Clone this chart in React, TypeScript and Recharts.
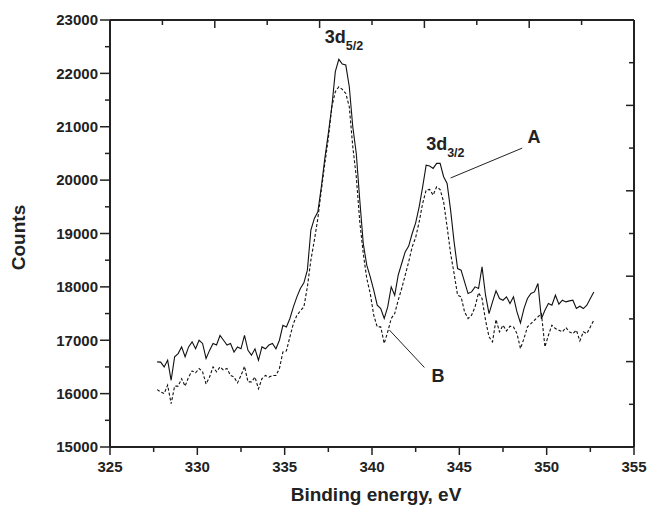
import { LineChart, Line, XAxis, YAxis, ReferenceLine, ReferenceDot } from 'recharts';

// binding energy, eV
const energy = [
  327.7, 327.9, 328.1, 328.3, 328.5, 328.7, 328.9, 329.1, 329.3, 329.5,
  329.7, 329.9, 330.1, 330.3, 330.5, 330.7, 330.9, 331.1, 331.3, 331.5,
  331.7, 331.9, 332.1, 332.3, 332.5, 332.7, 332.9, 333.1, 333.3, 333.5,
  333.7, 333.9, 334.1, 334.3, 334.5, 334.7, 334.9, 335.1, 335.3, 335.5,
  335.7, 335.9, 336.1, 336.3, 336.5, 336.7, 336.9, 337.1, 337.3, 337.5,
  337.7, 337.9, 338.1, 338.3, 338.5, 338.7, 338.9, 339.1, 339.3, 339.5,
  339.7, 339.9, 340.1, 340.3, 340.5, 340.7, 340.9, 341.1, 341.3, 341.5,
  341.7, 341.9, 342.1, 342.3, 342.5, 342.7, 342.9, 343.1, 343.3, 343.5,
  343.7, 343.9, 344.1, 344.3, 344.5, 344.7, 344.9, 345.1, 345.3, 345.5,
  345.7, 345.9, 346.1, 346.3, 346.5, 346.7, 346.9, 347.1, 347.3, 347.5,
  347.7, 347.9, 348.1, 348.3, 348.5, 348.7, 348.9, 349.1, 349.3, 349.5,
  349.7, 349.9, 350.1, 350.3, 350.5, 350.7, 350.9, 351.1, 351.3, 351.5,
  351.7, 351.9, 352.1, 352.3, 352.5, 352.7,
];

// curve A (solid)
const countsA = [
  16594, 16590, 16500, 16625, 16250, 16690, 16750, 16875, 16690, 16875,
  16970, 16840, 17000, 16940, 16660, 16810, 16940, 16910, 17090, 17000,
  16910, 16940, 16780, 16875, 16840, 17090, 16810, 16720, 16840, 16625,
  16875, 16840, 16910, 16940, 16840, 17000, 17280, 17250, 17407, 17625,
  17813, 17969, 18075, 18313, 19063, 19282, 19406, 19875, 20407, 20875,
  21375, 22031, 22263, 22175, 22156, 21750, 21000, 20500, 19625, 18813,
  18406, 18188, 17938, 17656, 17594, 17407, 17625, 18000, 17844, 18219,
  18438, 18656, 18763, 19000, 19200, 19500, 19875, 20281, 20263, 20219,
  20313, 20313, 20063, 19938, 19438, 18844, 18344, 18313, 18094, 17875,
  17906, 18000, 17969, 18375, 17844, 17500, 17719, 17925, 17782, 17750,
  17813, 17688, 17813, 17531, 17325, 17594, 17782, 17875, 17906, 18063,
  17400, 17563, 17688, 17657, 17844, 17675, 17750, 17719, 17738, 17750,
  17594, 17638, 17594, 17657, 17782, 17906,
];

// curve B (dashed)
const countsB = [
  16075, 16030, 16000, 16160, 15810, 16140, 16140, 16280, 16140, 16310,
  16425, 16390, 16470, 16410, 16180, 16310, 16500, 16410, 16500, 16440,
  16470, 16340, 16310, 16200, 16340, 16510, 16220, 16220, 16310, 16090,
  16280, 16340, 16310, 16340, 16340, 16470, 16780, 16800, 17063, 17313,
  17469, 17550, 17625, 18000, 18500, 18875, 19282, 19813, 20313, 20782,
  21375, 21657, 21750, 21700, 21625, 21375, 20625, 20063, 19219, 18625,
  18157, 17875, 17469, 17250, 17250, 16940, 17157, 17407, 17500, 17750,
  17969, 18219, 18469, 18750, 18925, 19219, 19563, 19813, 19825, 19719,
  19875, 19825, 19594, 19125, 18625, 18250, 17844, 17813, 17531, 17407,
  17469, 17625, 17888, 17782, 17375, 17063, 16969, 17388, 17157, 17282,
  17175, 17263, 17250, 17125, 16844, 17032, 17250, 17313, 17375, 17438,
  17500, 16875, 17094, 17282, 17219, 17188, 17157, 17238, 17157, 17125,
  17188, 16988, 17157, 17125, 17250, 17375,
];

const xTicks = [325, 327.5, 330, 332.5, 335, 337.5, 340, 342.5, 345, 347.5, 350, 352.5, 355];
const yTicks = [
  15000, 15500, 16000, 16500, 17000, 17500, 18000, 18500, 19000,
  19500, 20000, 20500, 21000, 21500, 22000, 22500, 23000,
];
const topTicks = [325, 328, 331, 334, 337, 340, 343, 346, 349, 352, 355];
const rightTicks = [15000, 15800, 16600, 17400, 18200, 19000, 19800, 20600, 21400, 22200, 23000];

const notes = [
  { x: 337.3, y: 22570, text: '3d', sub: '5/2' },
  { x: 343.1, y: 20560, text: '3d', sub: '3/2' },
  { x: 348.9, y: 20690, text: 'A', sub: '' },
  { x: 343.4, y: 16220, text: 'B', sub: '' },
];
const pointers = [
  [{ x: 348.6, y: 20600 }, { x: 344.5, y: 20040 }],
  [{ x: 343.0, y: 16490 }, { x: 341.0, y: 17190 }],
];

const data = energy.map((e, i) => ({ e, a: countsA[i], b: countsB[i] }));

const INK = '#222';
const FONT = 'Liberation Sans, Arial, sans-serif';

const BottomTick = (props: any) => {
  const { x, y, payload } = props;
  const v = payload.value;
  const major = v % 5 === 0;
  return (
    <g>
      <line x1={x} y1={y} x2={x} y2={y + (major ? 8 : 5)} stroke={INK} strokeWidth={1.5} />
      {major && (
        <text x={x} y={y + 25} textAnchor="middle" fontSize={15} fontWeight="bold" fontFamily={FONT} fill={INK}>
          {v}
        </text>
      )}
    </g>
  );
};

const LeftTick = (props: any) => {
  const { x, y, payload } = props;
  const v = payload.value;
  const major = v % 1000 === 0;
  return (
    <g>
      <line x1={x} y1={y} x2={x - (major ? 10 : 5)} y2={y} stroke={INK} strokeWidth={1.5} />
      {major && (
        <text x={x - 12} y={y + 5.3} textAnchor="end" fontSize={15} fontWeight="bold" fontFamily={FONT} fill={INK}>
          {v}
        </text>
      )}
    </g>
  );
};

const TopTick = (props: any) => {
  const { x, y, index } = props;
  return <line x1={x} y1={y} x2={x} y2={y + (index % 2 === 0 ? 8 : 5)} stroke={INK} strokeWidth={1.5} />;
};

const RightTick = (props: any) => {
  const { x, y, index } = props;
  return <line x1={x} y1={y} x2={x - (index % 2 === 0 ? 8 : 5)} y2={y} stroke={INK} strokeWidth={1.5} />;
};

const XTitle = (props: any) => {
  const { x, width, y } = props.viewBox;
  return (
    <text x={x + width / 2 + 4} y={y + 54} textAnchor="middle" fontSize={19} fontWeight="bold" fontFamily={FONT} fill={INK}>
      Binding energy, eV
    </text>
  );
};

const YTitle = (props: any) => {
  const { x, y, height } = props.viewBox;
  const cx = x - 84;
  const cy = y + height / 2 + 4;
  return (
    <text x={cx} y={cy} transform={`rotate(-90 ${cx} ${cy})`} textAnchor="middle" fontSize={19} fontWeight="bold" fontFamily={FONT} fill={INK}>
      Counts
    </text>
  );
};

export default function App() {
  return (
    <div style={{ position: 'absolute', left: 0, top: 0, background: '#fff' }}>
      <LineChart width={651} height={506} data={data} margin={{ top: 19, right: 16, bottom: 58, left: 109 }}>
        <XAxis
          dataKey="e"
          type="number"
          domain={[325, 355]}
          ticks={xTicks}
          interval={0}
          tick={<BottomTick />}
          tickLine={false}
          tickSize={0}
          tickMargin={0}
          height={1}
          axisLine={{ stroke: INK, strokeWidth: 2 }}
          allowDataOverflow
          label={{ content: <XTitle /> }}
        />
        <XAxis
          xAxisId="top"
          orientation="top"
          dataKey="e"
          type="number"
          domain={[325, 355]}
          ticks={topTicks}
          interval={0}
          tick={<TopTick />}
          tickLine={false}
          tickSize={0}
          tickMargin={0}
          height={1}
          axisLine={{ stroke: INK, strokeWidth: 2 }}
          allowDataOverflow
        />
        <YAxis
          type="number"
          domain={[15000, 23000]}
          ticks={yTicks}
          interval={0}
          tick={<LeftTick />}
          tickLine={false}
          tickSize={0}
          tickMargin={0}
          width={1}
          axisLine={{ stroke: INK, strokeWidth: 2 }}
          allowDataOverflow
          label={{ content: <YTitle /> }}
        />
        <YAxis
          yAxisId="right"
          orientation="right"
          type="number"
          domain={[15000, 23000]}
          ticks={rightTicks}
          interval={0}
          tick={<RightTick />}
          tickLine={false}
          tickSize={0}
          tickMargin={0}
          width={1}
          axisLine={{ stroke: INK, strokeWidth: 2 }}
          allowDataOverflow
        />
        <Line type="linear" dataKey="a" stroke="#111" strokeWidth={1.1} dot={false} isAnimationActive={false} />
        <Line type="linear" dataKey="b" stroke="#111" strokeWidth={1.1} strokeDasharray="3 2" dot={false} isAnimationActive={false} />
        {pointers.map((seg, i) => (
          <ReferenceLine key={`p${i}`} segment={seg} stroke="#222" strokeWidth={1} />
        ))}
        {notes.map((n, i) => (
          <ReferenceDot
            key={`n${i}`}
            x={n.x}
            y={n.y}
            r={0}
            shape={(p: any) => (
              <text x={p.cx} y={p.cy} fontSize={18} fontWeight="bold" fontFamily={FONT} fill={INK}>
                {n.text}
                {n.sub && (
                  <tspan fontSize={12.5} dy={7}>
                    {n.sub}
                  </tspan>
                )}
              </text>
            )}
          />
        ))}
      </LineChart>
    </div>
  );
}
